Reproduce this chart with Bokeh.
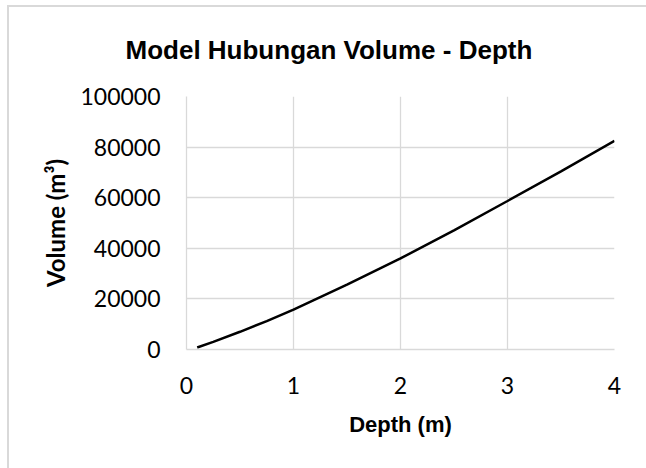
from bokeh.plotting import figure
from bokeh.embed import file_html
from bokeh.resources import INLINE
from bokeh.models import FixedTicker, Range1d, NumeralTickFormatter

depth = [0.1, 0.25, 0.5, 0.75, 1.0, 1.5, 2.0, 2.5, 3.0, 3.5, 4.0]
volume = [800, 3000, 7000, 11250, 15800, 25600, 36000, 47100, 58700, 70400, 82450]
x_ticks = [0, 1, 2, 3, 4]
y_ticks = [0, 20000, 40000, 60000, 80000, 100000]

GRID = "#d9d9d9"

p = figure(width=646, height=468, output_backend="svg", toolbar_location=None,
           x_range=Range1d(0, 4), y_range=Range1d(0, 100000),
           min_border_left=186, min_border_right=32, min_border_top=96, min_border_bottom=119,
           title="Model Hubungan Volume - Depth")
p.border_fill_color = None
p.background_fill_color = "white"
p.styles = {
    "background-image": "linear-gradient(#d9d9d9,#d9d9d9), linear-gradient(#d9d9d9,#d9d9d9)",
    "background-size": "2px 100%, 100% 2px",
    "background-position": "7px 5px, 7px 5px",
    "background-repeat": "no-repeat",
}

p.title.text_font = "Liberation Sans"
p.title.text_font_style = "bold"
p.title.text_font_size = "26px"
p.title.text_line_height = 0.8
p.title.align = "left"
p.title.offset = -61
p.title.standoff = 64
p.title.text_color = "black"

p.outline_line_color = None

for ax in (p.xaxis[0], p.yaxis[0]):
    ax.major_tick_line_color = None
    ax.minor_tick_line_color = None
    ax.axis_line_color = GRID
    ax.axis_line_width = 1.3
    ax.major_label_text_font = "Lato"
    ax.major_label_text_font_size = "23px"
    ax.major_label_text_color = "black"
    ax.axis_label_text_color = "black"
    ax.axis_label_text_font_style = "bold"

p.xaxis.ticker = FixedTicker(ticks=x_ticks)
p.yaxis.ticker = FixedTicker(ticks=y_ticks)
p.yaxis.formatter = NumeralTickFormatter(format="0")
p.xaxis.major_label_standoff = 21
p.yaxis.major_label_standoff = 20

p.xaxis.axis_label = "Depth (m)"
p.xaxis.axis_label_text_font = "Liberation Sans"
p.xaxis.axis_label_text_font_size = "22px"
p.xaxis.axis_label_standoff = 15

p.yaxis.axis_label = "Volume (m³)"
p.yaxis.axis_label_text_font = "Lato"
p.yaxis.axis_label_text_font_size = "24px"
p.yaxis.axis_label_standoff = 7

p.xgrid.ticker = FixedTicker(ticks=x_ticks)
p.ygrid.ticker = FixedTicker(ticks=y_ticks)
p.xgrid.grid_line_color = GRID
p.ygrid.grid_line_color = GRID
p.xgrid.grid_line_width = 1.3
p.ygrid.grid_line_width = 1.3

p.line(depth, volume, line_color="black", line_width=2.5)

open("out.html", "w").write(file_html(p, INLINE))
